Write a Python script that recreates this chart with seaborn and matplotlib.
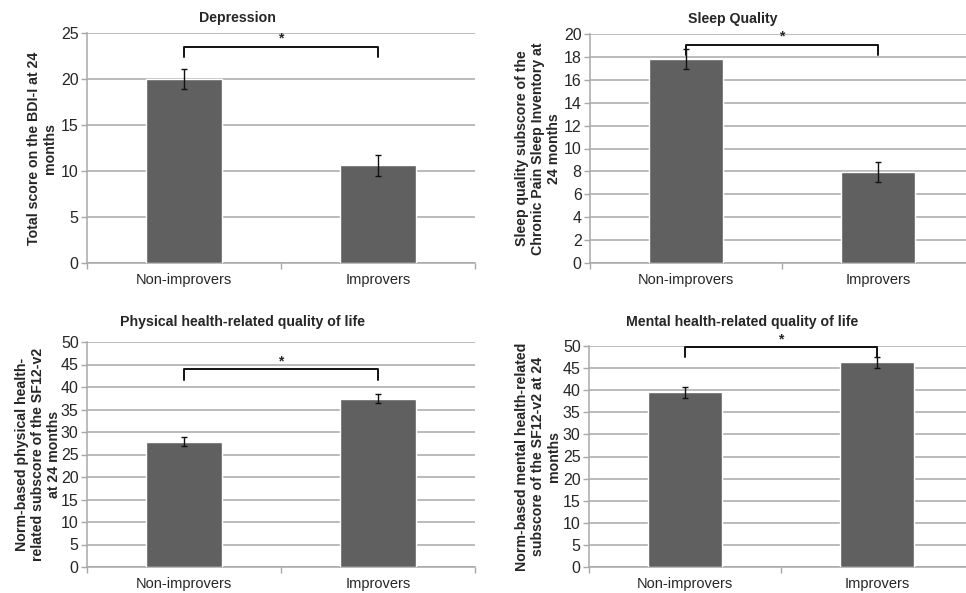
import numpy as np
import pandas as pd
import seaborn as sns
import matplotlib.pyplot as plt

groups = ['Non-improvers', 'Improvers']

titles = ['Depression', 'Sleep Quality',
          'Physical health-related quality of life',
          'Mental health-related quality of life']
ylabels = ['Total score on the BDI-I at 24\nmonths',
           'Sleep quality subscore of the\nChronic Pain Sleep Inventory at\n24 months',
           'Norm-based physical health-\nrelated subscore of the SF12-v2\nat 24 months',
           'Norm-based mental health-related\nsubscore of the SF12-v2 at 24\nmonths']

depression = [20.0, 10.6]
depression_err = [1.1, 1.1]
sleep = [17.8, 7.95]
sleep_err = [0.9, 0.9]
physical = [27.8, 37.4]
physical_err = [1.0, 1.0]
mental = [39.5, 46.3]
mental_err = [1.2, 1.2]

ymax = [25, 20, 50, 50]
ystep = [5, 2, 5, 5]
# significance bracket: (leg bottom, bar top) in data units
brackets = [(22.4, 23.5), (18.2, 19.05), (41.6, 44.0), (47.5, 49.8)]

sns.set_theme(style='white')
plt.rcParams['font.family'] = ['Liberation Sans', 'DejaVu Sans']

bar_color = '#606060'
grid_color = '#a8a8a8'
text_color = '#262626'

fig = plt.figure(figsize=(9.66, 5.93), dpi=100)

# axes rectangles in pixels: left, top, right, bottom
boxes = [(87, 33, 475, 263), (590, 34, 974, 263),
         (87, 342, 475, 567), (589, 346, 973, 567)]
title_pos = [(237, 18), (733, 19), (243, 322), (742, 322)]
label_x = [42, 538, 38, 538]

series = [(depression, depression_err), (sleep, sleep_err),
          (physical, physical_err), (mental, mental_err)]

W, H = 966, 593
for i, (vals, errs) in enumerate(series):
    l, t, r, b = boxes[i]
    ax = fig.add_axes([l / W, 1 - b / H, (r - l) / W, (b - t) / H])
    df = pd.DataFrame({'group': groups, 'value': vals})
    sns.barplot(data=df, x='group', y='value', color=bar_color,
                saturation=1, width=0.39, ax=ax, zorder=3)
    ax.errorbar(range(len(groups)), vals, yerr=errs, fmt='none',
                ecolor='#111111', elinewidth=1, capsize=2.5, capthick=1, zorder=4)

    ax.set_xlim(-0.5, 1.5)
    ax.set_ylim(0, ymax[i])
    ax.set_yticks(np.arange(0, ymax[i] + 0.1, ystep[i]))
    ax.yaxis.grid(True, color=grid_color, linewidth=1.1, zorder=0)
    ax.set_axisbelow(True)
    for s in ['top', 'right']:
        ax.spines[s].set_visible(False)
    for s in ['left', 'bottom']:
        ax.spines[s].set_color(grid_color)
        ax.spines[s].set_linewidth(1.1)
    ax.tick_params(axis='y', left=True, length=4, width=1, color=grid_color,
                   labelsize=11.5, labelcolor=text_color, pad=2)
    ax.tick_params(axis='x', which='major', bottom=False, labelsize=10.5,
                   labelcolor=text_color, pad=1.5)
    ax.set_xticks([-0.5, 0.5, 1.5], minor=True)
    ax.tick_params(axis='x', which='minor', bottom=True, length=4, width=1,
                   color=grid_color)
    ax.set_xlabel('')
    ax.set_ylabel('')

    lo, hi = brackets[i]
    ax.plot([0, 0, 1, 1], [lo, hi, hi, lo], color='#111111', lw=1.4,
            clip_on=False, zorder=5)
    span = ymax[i]
    ax.text(0.5, hi + span * 0.004, '*', ha='center', va='bottom',
            fontsize=10, fontweight='bold', color=text_color, clip_on=False)

    ax.text((label_x[i] - l) / (r - l), 0.5, ylabels[i], transform=ax.transAxes,
            rotation=90, ha='center', va='center', fontsize=10.2,
            fontweight='bold', color=text_color, linespacing=1.2)

    tx, ty = title_pos[i]
    fig.text(tx / W, 1 - ty / H, titles[i], ha='center', va='center',
             fontsize=10.2, fontweight='bold', color=text_color)

fig.savefig('out.png', dpi=100)
